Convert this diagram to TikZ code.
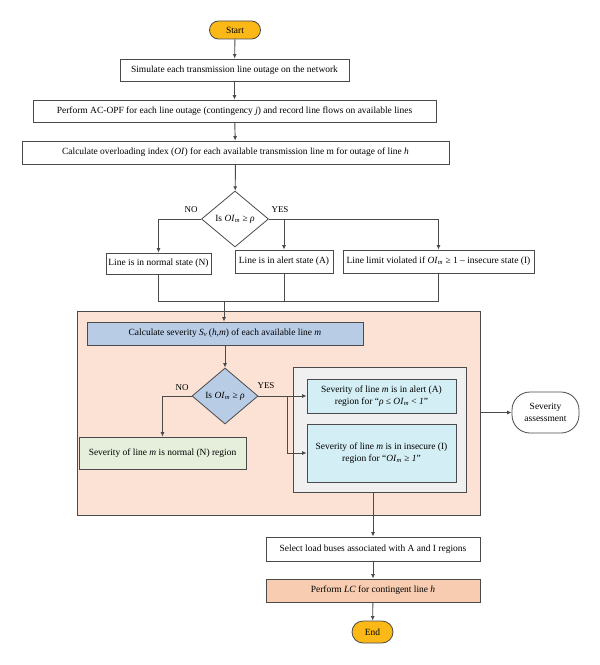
\documentclass[tikz,border=0pt]{standalone}
\usepackage{fontspec}
\setmainfont{Liberation Serif}
\usetikzlibrary{shapes.geometric,shapes.misc,arrows.meta}
\definecolor{ln}{HTML}{4A4A4A}
\definecolor{gold}{HTML}{FBB817}
\definecolor{peach}{HTML}{FBE2D4}
\definecolor{bluebox}{HTML}{B8CCE6}
\definecolor{greenbox}{HTML}{E5EFDB}
\definecolor{cyanbox}{HTML}{D3EEF4}
\definecolor{graybox}{HTML}{F0F0F0}
\definecolor{lcbox}{HTML}{F7CCB0}
\newcommand\OIm{\textit{OI}\textsubscript{\textit{m}}}
\begin{document}
\begin{tikzpicture}[x=1bp,y=-1bp,
 font=\fontsize{9.5}{11.5}\selectfont,
 box/.style={draw=ln, line width=0.8bp, inner sep=1bp, align=center},
 term/.style={draw=ln, line width=0.8bp, rounded rectangle, fill=gold, inner sep=0},
 dec/.style={draw=ln, line width=0.8bp, diamond, inner sep=0, shape aspect=1.2},
 conn/.style={draw=ln, line width=0.9bp},
 arr/.style={conn, -{Latex[length=4.5bp,width=4bp]}},
 lbl/.style={inner sep=0, font=\fontsize{9}{10}\selectfont}
]
\useasboundingbox (0,0) rectangle (600,665);

% background group boxes
\node[box, fill=peach, minimum width=403bp, minimum height=204bp] (big) at (278.5,413) {};
\node[box, fill=graybox, minimum width=173bp, minimum height=125bp] (gray) at (379.5,429.5) {};

% top part
\node[term, minimum width=51bp, minimum height=18bp] (start) at (235,30) {Start};
\node[box, minimum width=229bp, minimum height=22bp] (b1) at (234.5,70) {Simulate each transmission line outage on the network};
\node[box, minimum width=403bp, minimum height=22bp] (b2) at (234.5,111) {Perform AC-OPF for each line outage (contingency \textit{j}) and record line flows on available lines};
\node[box, minimum width=427bp, minimum height=23bp] (b3) at (235.5,152.5) {Calculate overloading index (\textit{OI}) for each available transmission line m for outage of line \textit{h}};
\node[dec, minimum width=67bp, minimum height=56bp] (d1) at (235,219) {Is \OIm{} ≥ \textit{ρ}};
\node[box, minimum width=105bp, minimum height=21bp] (sn) at (158.5,263.5) {Line is in normal state (N)};
\node[box, minimum width=98bp, minimum height=23bp] (sa) at (284,261.5) {Line is in alert state (A)};
\node[box, minimum width=191bp, minimum height=23bp] (si) at (438.5,261.5) {Line limit violated if \OIm{} ≥ 1 – insecure state (I)};
\node[lbl] (no1) at (191,210) {NO};
\node[lbl] (yes1) at (280,210) {YES};

% severity part
\node[box, fill=bluebox, minimum width=276bp, minimum height=23bp] (calc) at (225,333.5) {Calculate severity \textit{S}\textsubscript{\textit{v}}\,(\textit{h,m}) of each available line \textit{m}};
\node[dec, fill=bluebox, minimum width=66bp, minimum height=56bp] (d2) at (225,396) {Is \OIm{} ≥ \textit{ρ}};
\node[box, fill=greenbox, minimum width=167bp, minimum height=32bp] (gn) at (162.5,453) {Severity of line \textit{m} is normal (N) region};
\node[box, fill=cyanbox, minimum width=149bp, minimum height=34bp] (ga) at (381.5,396) {Severity of line \textit{m} is in alert (A)\\region for “\textit{ρ} ≤ \OIm{} < \textit{1}”};
\node[box, fill=cyanbox, minimum width=149bp, minimum height=58bp] (gi) at (381.5,453) {Severity of line \textit{m} is in insecure (I)\\region for “\OIm{} ≥ \textit{1}”};
\node[lbl] (no2) at (182,388) {NO};
\node[lbl] (yes2) at (266,386) {YES};
\node[box, rounded corners=18bp, minimum width=67bp, minimum height=41bp] (sev) at (545.5,412.5) {Severity\\assessment};

% bottom
\node[box, minimum width=214bp, minimum height=24bp] (sel) at (373,549) {Select load buses associated with A and I regions};
\node[box, fill=lcbox, minimum width=214bp, minimum height=23bp] (lc) at (373,590.5) {Perform \textit{LC} for contingent line \textit{h}};
\node[term, minimum width=41bp, minimum height=22bp] (end) at (372.5,632) {End};

% coordinates
\coordinate (ybr) at (284,219);
\coordinate (mL) at (158.5,301);
\coordinate (mR) at (438.5,301);
\coordinate (mA) at (284,301);
\coordinate (mD) at (224,301);
\coordinate (j2) at (287,396);
\coordinate (j2b) at (287,453);

% connectors
\draw[arr] (start) -- (b1);
\draw[arr] (b1) -- (b2);
\draw[arr] (b2) -- (b3);
\draw[arr] (b3) -- (d1);
\draw[arr] (d1.west) -| (sn.north);
\draw[arr] (d1.east) -| (si.north);
\draw[arr] (ybr) -- (sa.north);
\draw[conn] (sn.south) -- (mL) -- (mR) -- (si.south);
\draw[conn] (sa.south) -- (mA);
\draw[arr] (mD) -- (mD |- calc.north);
\draw[arr] (calc) -- (d2);
\draw[arr] (d2.west) -| (gn.north);
\draw[arr] (d2.east) -- (ga.west);
\draw[arr] (j2) -- (j2b) -- (gi.west);
\draw[arr] (big.east |- sev.west) -- (sev.west);
\draw[arr] (gray.south -| sel.north) -- (sel.north);
\draw[arr] (sel) -- (lc);
\draw[arr] (lc) -- (end);
\end{tikzpicture}
\end{document}
